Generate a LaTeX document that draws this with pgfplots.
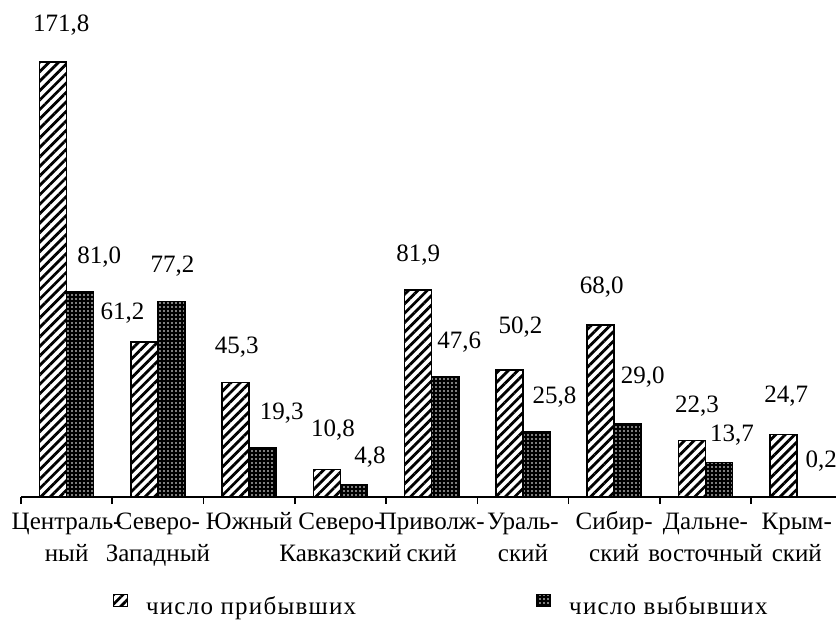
\documentclass[border=0pt]{standalone}
\usepackage{fontspec}
\setmainfont{Liberation Serif}
\newfontfamily\legendfont[LetterSpace=5]{Liberation Serif}
\usepackage{pgfplots}
\pgfplotsset{compat=1.18}
\usepackage{pgfplotstable}
\usetikzlibrary{patterns.meta}

\pgfplotsset{sqlegend/.style={legend image code/.code={\draw[##1, line width=1bp] (0bp,0bp) rectangle (14bp,12bp);}}}

\pgfplotstableread{
x y dx dy
0 171.8 8 37
1 61.2 -22 29
2 45.3 1 35
3 10.8 6 40
4 81.9 0 35
5 50.2 11 43
6 68.0 1 38
7 22.3 5 34
8 24.7 3 38
}\arrived
\pgfplotstableread{
x y dx dy
0 81.0 19 35
1 77.2 1 35
2 19.3 19 35
3 4.8 16 28
4 47.6 14 34
5 25.8 18 35
6 29.0 15 47
7 13.7 13 27
8 0.2 11 35
}\departed

\begin{document}
\begin{tikzpicture}
\begin{axis}[name=ax, scale only axis, width=815bp, height=496bp,
  xmin=-0.5, xmax=8.43, ymin=0, ymax=196,
  ybar=0pt, bar width=27bp,
  axis x line*=bottom, axis y line=none,
  x axis line style={line width=1.6bp, -},
  xtick={0,...,8},
  xticklabels={{\strut Централь-\\ный},{\strut Северо-\\Западный},{\strut Южный},{\strut Северо-\\Кавказский},{\strut Приволж-\\ский},{\strut Ураль-\\ский},{\strut Сибир-\\ский},{\strut Дальне-\\восточный},{\strut Крым-\\ский}},
  major tick length=0pt,
  minor xtick={-0.5,0.5,...,8.5},
  minor tick length=7bp, tick align=outside,
  minor tick style={line width=1.6bp, black},
  xticklabel style={font=\fontsize{25bp}{32bp}\selectfont, align=center, anchor=north, inner sep=0pt, yshift=-9.6bp},
  clip=false,
  nodes near coords={\pgfmathprintnumber[fixed,fixed zerofill,precision=1,use comma]{\pgfplotspointmeta}},
  visualization depends on={\thisrow{dx} \as \labdx},
  visualization depends on={\thisrow{dy} \as \labdy},
  every node near coord/.append style={anchor=center, font=\fontsize{25bp}{30bp}\selectfont, xshift=\labdx*1bp, yshift=\labdy*1bp, inner sep=0pt, text=black},
  /pgf/number format/assume math mode=true,
  legend columns=2,
  legend style={draw=none, fill=none, inner sep=0pt, outer sep=0pt, at={(0.1129,-0.218)}, anchor=west,
    font=\legendfont\fontsize{25bp}{30bp}\selectfont, nodes={inner sep=0pt},
    /tikz/every odd column/.append style={column sep=18bp},
    /tikz/every even column/.append style={column sep=180bp}},
]
\addplot[draw=black, line width=1.6bp, pattern={Lines[angle=45,distance=6.7bp,line width=2.8bp]}, sqlegend]
  table[x=x,y=y]{\arrived};
\addlegendentry{число прибывших}
\addplot[draw=black, line width=1.6bp, fill=black, postaction={pattern={Dots[distance=4bp,radius=0.9bp]}, pattern color=white}, sqlegend]
  table[x=x,y=y]{\departed};
\addlegendentry{число выбывших}
\end{axis}
\pgfresetboundingbox
\path[use as bounding box] ([xshift=-21bp,yshift=-126bp]ax.south west) rectangle ([xshift=815bp,yshift=497bp]ax.south west);
\end{tikzpicture}
\end{document}
